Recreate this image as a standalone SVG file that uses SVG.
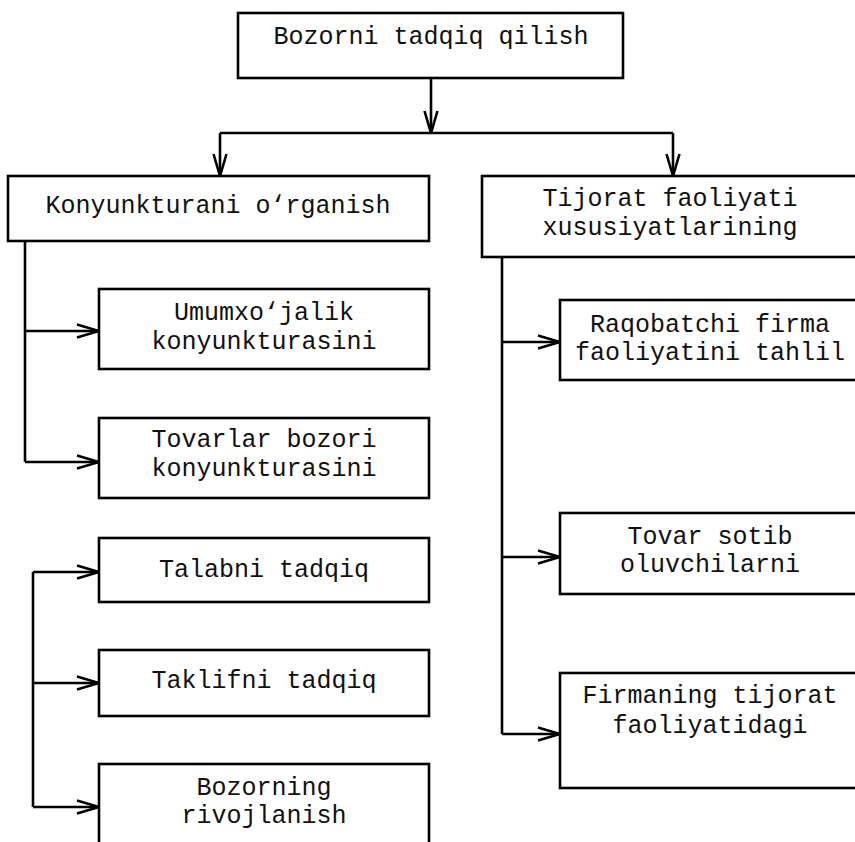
<svg xmlns="http://www.w3.org/2000/svg" width="855" height="842" viewBox="0 0 855 842">
<style>
.box{fill:#fff;stroke:#000;stroke-width:2.6}
.t{font-family:"Liberation Mono","Courier New",monospace;font-size:25px;fill:#111;text-anchor:middle}
.c{fill:none;stroke:#000;stroke-width:2.6}
</style>
<defs>
<marker id="arr" viewBox="0 0 24 16" refX="23" refY="8" markerWidth="24" markerHeight="16" orient="auto" markerUnits="userSpaceOnUse">
<path d="M1,1.5 L23,8 L1,14.5" fill="none" stroke="#000" stroke-width="2.6"/>
</marker>
</defs>
<rect width="855" height="842" fill="#fff"/>
<g id="connectors">
<path class="c" d="M431,78 V133" marker-end="url(#arr)"/>
<path class="c" d="M220,133 H673"/>
<path class="c" d="M220,133 V176" marker-end="url(#arr)"/>
<path class="c" d="M673,133 V176" marker-end="url(#arr)"/>
<path class="c" d="M25,241 V462"/>
<path class="c" d="M25,331 H99" marker-end="url(#arr)"/>
<path class="c" d="M25,462 H99" marker-end="url(#arr)"/>
<path class="c" d="M33,572 V807"/>
<path class="c" d="M33,572 H99" marker-end="url(#arr)"/>
<path class="c" d="M33,683 H99" marker-end="url(#arr)"/>
<path class="c" d="M33,807 H99" marker-end="url(#arr)"/>
<path class="c" d="M502,257 V734"/>
<path class="c" d="M502,342 H560" marker-end="url(#arr)"/>
<path class="c" d="M502,557 H560" marker-end="url(#arr)"/>
<path class="c" d="M502,734 H560" marker-end="url(#arr)"/>
</g>
<g id="n-top"><rect class="box" x="238" y="13" width="385" height="65"/><text class="t" x="431" y="44">Bozorni tadqiq qilish</text></g>
<g id="n-konj"><rect class="box" x="8" y="176" width="421" height="65"/><text class="t" x="218" y="213">Konyunkturani o‘rganish</text></g>
<g id="n-umum"><rect class="box" x="99" y="289" width="330" height="80"/><text class="t" x="264" y="320">Umumxo‘jalik</text><text class="t" x="264" y="349">konyunkturasini</text></g>
<g id="n-tovarlar"><rect class="box" x="99" y="418" width="330" height="80"/><text class="t" x="264" y="447">Tovarlar bozori</text><text class="t" x="264" y="476">konyunkturasini</text></g>
<g id="n-talab"><rect class="box" x="99" y="538" width="330" height="64"/><text class="t" x="264" y="577">Talabni tadqiq</text></g>
<g id="n-taklif"><rect class="box" x="99" y="650" width="330" height="66"/><text class="t" x="264" y="688">Taklifni tadqiq</text></g>
<g id="n-bozorning"><rect class="box" x="99" y="764" width="330" height="100"/><text class="t" x="264" y="795">Bozorning</text><text class="t" x="264" y="823">rivojlanish</text></g>
<g id="n-tijorat"><rect class="box" x="482" y="176" width="378" height="81"/><text class="t" x="670" y="206">Tijorat faoliyati</text><text class="t" x="670" y="235">xususiyatlarining</text></g>
<g id="n-raqob"><rect class="box" x="560" y="300" width="300" height="80"/><text class="t" x="710" y="332">Raqobatchi firma</text><text class="t" x="710" y="360">faoliyatini tahlil</text></g>
<g id="n-tovar"><rect class="box" x="560" y="513" width="300" height="81"/><text class="t" x="710" y="544">Tovar sotib</text><text class="t" x="710" y="572">oluvchilarni</text></g>
<g id="n-firma"><rect class="box" x="560" y="673" width="300" height="115"/><text class="t" x="710" y="703">Firmaning tijorat</text><text class="t" x="710" y="733">faoliyatidagi</text></g>
</svg>
